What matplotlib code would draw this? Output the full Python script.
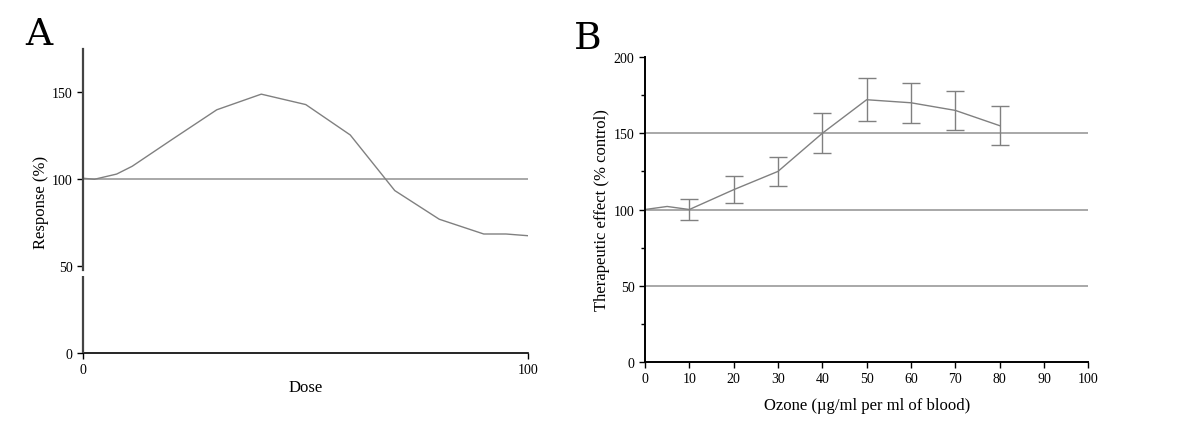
import numpy as np
import matplotlib
matplotlib.use("Agg")
import matplotlib.pyplot as plt

plt.rcParams['font.family'] = ['Liberation Serif', 'DejaVu Serif']

# -------------------------
# Data
# -------------------------
# Panel A - generic hormetic dose-response curve
dose_a = [0, 2.5, 7.5, 11, 20, 30, 40, 50, 60, 70, 80, 90, 95, 100]
response_a = [100.6, 100, 103, 107.5, 123, 140, 149, 143, 125.5, 93.5, 77, 68.5, 68.5, 67.5]
ref_a = 100
yticks_a = [0, 50, 100, 150]
xticks_a = [0, 100]

# Panel B - ozone therapeutic effect with error bars
ozone_b = [0, 5, 10, 20, 30, 40, 50, 60, 70, 80]
effect_b = [100, 102, 100, 113, 125, 150, 172, 170, 165, 155]
err_b = [0, 0, 7, 9, 9.5, 13, 14, 13, 13, 13]
ref_b = [50, 100, 150]
yticks_b = [0, 50, 100, 150, 200]
yminor_b = [25, 75, 125, 175]
xticks_b = list(range(0, 101, 10))

line_col = "#808080"
ref_col = "#9a9a9a"

fig = plt.figure(figsize=(12, 4.35), dpi=100)

# -------------------------
# Panel A
# -------------------------
ax1 = fig.add_axes([0.0694, 0.1862, 0.3708, 0.6989])
ax1.axhline(ref_a, color=ref_col, lw=1.2, zorder=1)
ax1.plot(dose_a, response_a, color=line_col, lw=1.0, zorder=2)
ax1.set_xlim(0, 100)
ax1.set_ylim(0, 175)
ax1.set_xticks(xticks_a)
ax1.set_yticks(yticks_a)
for s in ["top", "right"]:
    ax1.spines[s].set_visible(False)
ax1.spines["left"].set_color("#444444")
ax1.spines["left"].set_linewidth(1.6)
ax1.spines["left"].set_bounds(48, 175)  # broken y-axis just under 50
ax1.vlines(0, 0, 44.5, color="#444444", lw=1.6, clip_on=False, zorder=3)
ax1.spines["bottom"].set_linewidth(1.2)
ax1.tick_params(direction="out", length=4.5, width=1.0, labelsize=10, pad=3)
ax1.set_xlabel("Dose", fontsize=12, labelpad=2)
ax1.set_ylabel("Response (%)", fontsize=12, labelpad=2)

# -------------------------
# Panel B
# -------------------------
ax2 = fig.add_axes([0.5375, 0.1655, 0.3694, 0.7011])
for r in ref_b:
    ax2.axhline(r, color=ref_col, lw=1.2, zorder=1)
ax2.plot(ozone_b, effect_b, color=line_col, lw=1.0, zorder=2)
ax2.errorbar(ozone_b[2:], effect_b[2:], yerr=err_b[2:], fmt="none",
             ecolor=line_col, elinewidth=1.0, capsize=6.5, capthick=1.0, zorder=3)
ax2.set_xlim(0, 100)
ax2.set_ylim(0, 200)
ax2.set_xticks(xticks_b)
ax2.set_yticks(yticks_b)
ax2.set_yticks(yminor_b, minor=True)
for s in ["top", "right"]:
    ax2.spines[s].set_visible(False)
ax2.spines["left"].set_linewidth(1.4)
ax2.spines["bottom"].set_linewidth(1.4)
ax2.tick_params(direction="out", length=4.5, width=1.0, labelsize=10, pad=3)
ax2.tick_params(which="minor", direction="out", length=3, width=1.0)
ax2.set_xlabel("Ozone (\u00b5g/ml per ml of blood)", fontsize=12, labelpad=8)
ax2.set_ylabel("Therapeutic effect (% control)", fontsize=12, labelpad=3)

# panel letters
fig.text(25 / 1200, 1 - 45 / 435, "A", fontsize=27, family="DejaVu Serif",
         ha="left", va="baseline")
fig.text(574 / 1200, 1 - 49 / 435, "B", fontsize=27, family="DejaVu Serif",
         ha="left", va="baseline")

fig.savefig("out.png", dpi=100)
